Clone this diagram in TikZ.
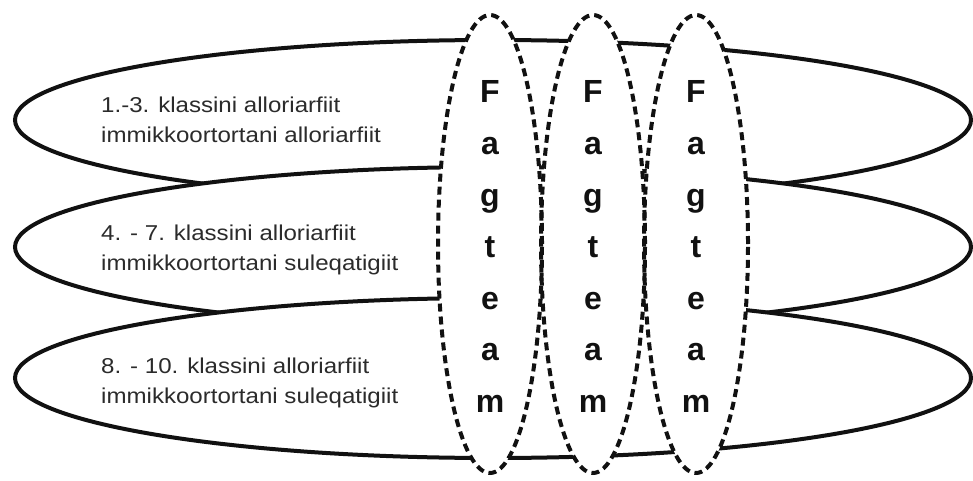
\documentclass[tikz,border=0pt]{standalone}
\usepackage{fontspec}
\setmainfont{Liberation Sans}
\newfontfamily\klassfont[FakeStretch=1.12]{Liberation Sans}
\usetikzlibrary{positioning}
\definecolor{fagInk}{HTML}{111111}
\definecolor{fagText}{HTML}{2B2B2B}
\tikzset{
  fag ring/.style={draw=fagInk, fill=white, line width=4pt},
  fag shade/.style={fill=white},
  fag team/.style={draw=fagInk, line width=4pt, dash pattern=on 8pt off 5pt},
  fag label/.style={font=\klassfont\fontsize{21.5}{30}\selectfont, text=fagText, align=left, inner sep=0pt, anchor=base west},
  fag letter/.style={font=\bfseries\fontsize{32}{32}\selectfont, text=fagInk, inner sep=0pt, anchor=base},
}

\begin{document}
\begin{tikzpicture}[x=1pt, y=1pt]
  \useasboundingbox (0,0) rectangle (973,480);

  % Class rings, each one lying over the one above it
  \foreach \yc in {360,233,102} {
    \draw[fag ring] (493,\yc) ellipse [x radius=478, y radius=80];
  }

  % Team ellipses: white inside first, dashed rims after
  \foreach \xc in {490,593,696} {
    \fill[fag shade] (\xc,236) ellipse [x radius=52, y radius=229];
  }
  \foreach \xc in {490,593,696} {
    \draw[fag team] (\xc,236) ellipse [x radius=52, y radius=229];
  }

  % Letters down each team ellipse
  \foreach \xc [count=\col] in {490,593,696} {
    \foreach \ltr [count=\row] in {F,a,g,t,e,a,m} {
      \node[fag letter] (team\col-\row) at (\xc, 428.5-51.5*\row) {\ltr};
    }
  }

  % Class labels (base = last line)
  \node[fag label] (klass1) at (101,337) {1.-3. klassini alloriarfiit\\immikkoortortani alloriarfiit};
  \node[fag label] (klass2) at (101,210) {4. - 7. klassini alloriarfiit\\immikkoortortani suleqatigiit};
  \node[fag label] (klass3) at (101,77) {8. - 10. klassini alloriarfiit\\immikkoortortani suleqatigiit};
\end{tikzpicture}
\end{document}
